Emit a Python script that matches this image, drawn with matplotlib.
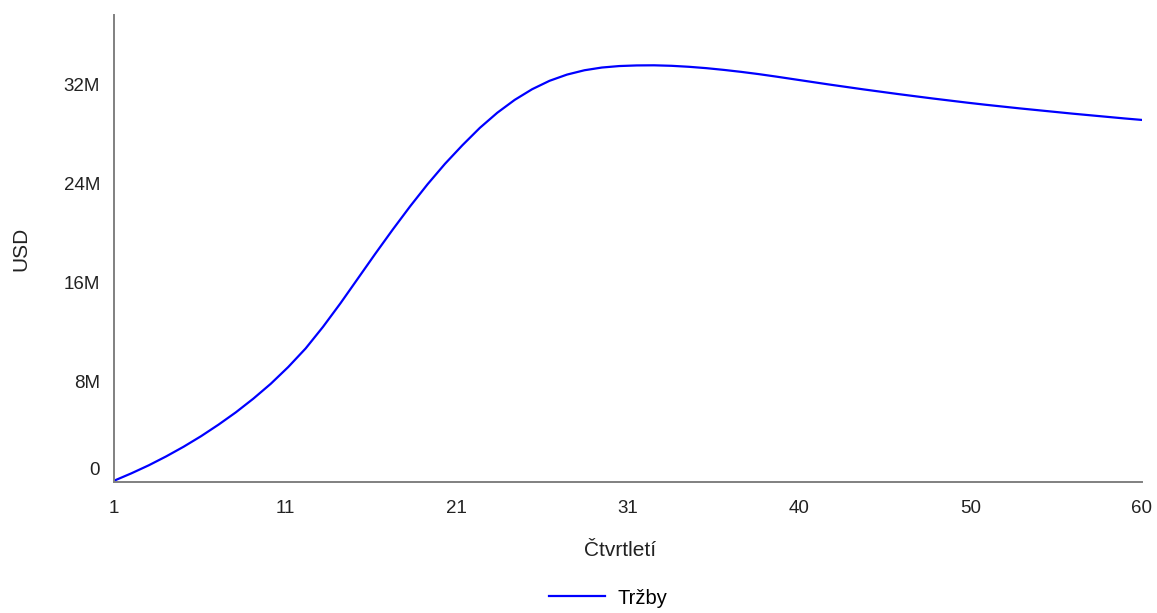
import numpy as np
import matplotlib.pyplot as plt
import matplotlib.transforms as mtransforms

plt.rcParams['font.family'] = ['Liberation Sans', 'DejaVu Sans']

# quarterly revenue, millions of USD
quarters = np.arange(1, 61)
revenue_m = [
    0.0, 0.6, 1.25, 1.97, 2.75, 3.6, 4.53, 5.53, 6.63, 7.83,
    9.18, 10.68, 12.43, 14.33, 16.33, 18.33, 20.28, 22.16, 23.94, 25.59,
    27.09, 28.49, 29.71, 30.75, 31.61, 32.29, 32.79, 33.14, 33.36, 33.48,
    33.53, 33.54, 33.5, 33.42, 33.31, 33.17, 33.01, 32.83, 32.63, 32.42,
    32.21, 32.0, 31.8, 31.6, 31.41, 31.22, 31.04, 30.86, 30.69, 30.52,
    30.36, 30.21, 30.06, 29.92, 29.78, 29.64, 29.51, 29.38, 29.25, 29.13,
]
x_tick_labels = ['1', '11', '21', '31', '40', '50', '60']
y_ticks = [0, 8, 16, 24, 32]
y_tick_labels = ['0', '8M', '16M', '24M', '32M']

fig = plt.figure(figsize=(11.57, 6.13), dpi=100)
ax = fig.add_axes([0.0985, 0.2137, 0.8885, 0.7618])

line, = ax.plot(quarters, revenue_m, color='#0000ff', lw=1.6, label='Tržby')

ax.set_xlim(1, 60)
ax.set_ylim(-0.1, 37.6)
ax.set_xticks(np.linspace(1, 60, len(x_tick_labels)))
ax.set_xticklabels(x_tick_labels)
ax.set_yticks(y_ticks)
ax.set_yticklabels(y_tick_labels)

for side in ['top', 'right']:
    ax.spines[side].set_visible(False)
for side in ['left', 'bottom']:
    ax.spines[side].set_color('#808080')
    ax.spines[side].set_linewidth(1.4)

ax.tick_params(axis='x', length=0, pad=13, labelsize=13.5, labelcolor='#222222')
ax.tick_params(axis='y', length=0, pad=10, labelsize=13.5, labelcolor='#222222')

# lift the zero label off the x axis
offset = mtransforms.ScaledTranslation(0, 12 / 100, fig.dpi_scale_trans)
zero_label = ax.get_yticklabels()[0]
zero_label.set_transform(zero_label.get_transform() + offset)

ax.set_xlabel('Čtvrtletí', fontsize=15, color='#222222')
ax.xaxis.set_label_coords(0.492, -0.126)
ax.set_ylabel('USD', fontsize=15, color='#222222', labelpad=24)

fig.legend(handles=[line], loc='center', bbox_to_anchor=(608 / 1157, 1 - 598 / 613),
           frameon=False, fontsize=14.5, handlelength=2.8, handletextpad=0.6)

fig.savefig('out.png', dpi=100)
